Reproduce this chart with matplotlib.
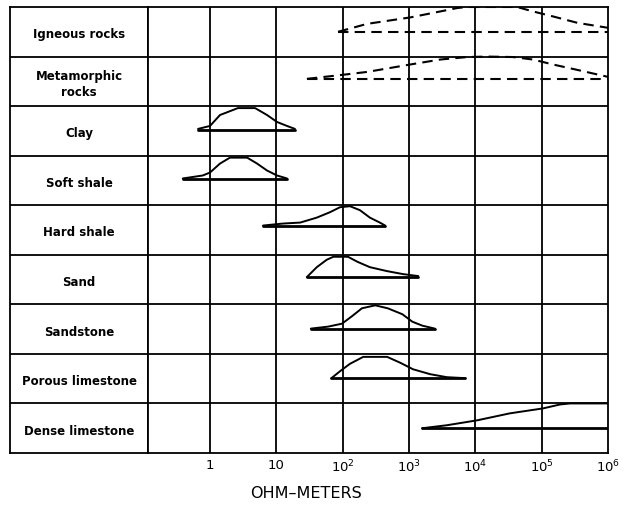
import numpy as np
import matplotlib
matplotlib.use("Agg")
import matplotlib.pyplot as plt

# rock types, top to bottom
rocks = ["Igneous rocks", "Metamorphic\nrocks", "Clay", "Soft shale", "Hard shale",
         "Sand", "Sandstone", "Porous limestone", "Dense limestone"]

# curves: log10(ohm-m) positions and depth below row top (fraction of row)
curve_x = [
    [1.93, 2.37, 3.02, 3.47, 3.73, 3.88, 4.63, 4.87, 5.17, 5.54, 6.0],
    [1.46, 1.99, 2.37, 3.02, 3.47, 3.88, 4.18, 4.57, 4.87, 5.17, 5.54, 6.0],
    [-0.18, 0.0, 0.15, 0.42, 0.68, 0.86, 1.01, 1.16, 1.28],
    [-0.41, -0.11, 0.0, 0.15, 0.30, 0.56, 0.71, 0.86, 1.01, 1.16],
    [0.80, 1.10, 1.36, 1.61, 1.81, 1.96, 2.11, 2.26, 2.41, 2.56, 2.64],
    [1.46, 1.61, 1.76, 1.86, 2.08, 2.22, 2.41, 2.67, 2.91, 3.14],
    [1.52, 1.78, 1.99, 2.14, 2.29, 2.49, 2.68, 2.90, 3.05, 3.20, 3.39],
    [1.83, 1.96, 2.11, 2.31, 2.67, 2.87, 3.06, 3.32, 3.57, 3.85],
    [3.20, 3.57, 4.03, 4.52, 5.02, 5.28, 5.43, 6.0],
]
curve_y = [
    [0.50, 0.34, 0.21, 0.09, 0.02, 0.0, 0.0, 0.09, 0.19, 0.32, 0.42],
    [0.45, 0.37, 0.31, 0.16, 0.06, 0.01, 0.0, 0.01, 0.06, 0.16, 0.27, 0.41],
    [0.46, 0.40, 0.18, 0.04, 0.04, 0.18, 0.32, 0.40, 0.46],
    [0.46, 0.40, 0.34, 0.16, 0.04, 0.04, 0.16, 0.30, 0.40, 0.46],
    [0.41, 0.37, 0.35, 0.25, 0.14, 0.04, 0.02, 0.10, 0.25, 0.35, 0.41],
    [0.45, 0.25, 0.10, 0.04, 0.04, 0.14, 0.25, 0.33, 0.39, 0.43],
    [0.49, 0.45, 0.39, 0.24, 0.08, 0.02, 0.08, 0.20, 0.35, 0.43, 0.49],
    [0.49, 0.35, 0.20, 0.06, 0.06, 0.18, 0.31, 0.41, 0.47, 0.49],
    [0.50, 0.44, 0.34, 0.20, 0.10, 0.02, 0.0, 0.0],
]
# baseline depth (fraction of row) for each rock
base_y = [0.50, 0.45, 0.48, 0.48, 0.41, 0.45, 0.49, 0.49, 0.50]
dashed = [True, True, False, False, False, False, False, False, False]

tick_vals = [1, 10, 100, 1e3, 1e4, 1e5, 1e6]
tick_labels = ["1", "10", "10$^2$", "10$^3$", "10$^4$", "10$^5$", "10$^6$"]

W, H = 626, 508
fig = plt.figure(figsize=(W / 100, H / 100), dpi=100)
axL = fig.add_axes([10 / W, 55 / H, 138 / W, 446 / H])
ax = fig.add_axes([148 / W, 55 / H, 460 / W, 446 / H])

n = len(rocks)
for a in (axL, ax):
    a.set_ylim(n, 0)
    for s in a.spines.values():
        s.set_linewidth(1.3)
    for k in range(1, n):
        a.axhline(k, color="black", lw=1.3)

axL.set_xlim(0, 1)
axL.set_xticks([])
axL.set_yticks([])
for i, name in enumerate(rocks):
    axL.text(0.5, i + 0.56, name, ha="center", va="center", fontsize=8.5,
             fontweight="bold", linespacing=1.25)

ax.set_xscale("log")
ax.set_xlim(10 ** -0.935, 1e6)
ax.set_yticks([])
ax.set_xticks(tick_vals)
ax.set_xticklabels(tick_labels, fontsize=9.5)
ax.minorticks_off()
ax.tick_params(axis="x", length=0, pad=4)
for v in tick_vals[:-1]:
    ax.axvline(v, color="black", lw=1.3)

for i in range(n):
    xs = np.power(10.0, curve_x[i])
    ys = i + np.array(curve_y[i])
    if dashed[i]:
        ls = (0, (5, 3))
        ax.plot(xs, ys, color="black", lw=1.5, ls=ls)
        ax.plot([xs[0], xs[-1]], [i + base_y[i]] * 2, color="black", lw=1.5, ls=ls)
    else:
        ax.plot(xs, ys, color="black", lw=1.4, solid_capstyle="round",
                solid_joinstyle="round")
        ax.plot([xs[0], xs[-1]], [i + base_y[i]] * 2, color="black", lw=2.0,
                solid_capstyle="round")

fig.text(306 / W, 1 - 493 / H, "OHM–METERS", ha="center", va="center",
         fontsize=11.5)

fig.savefig("out.png", dpi=100)
